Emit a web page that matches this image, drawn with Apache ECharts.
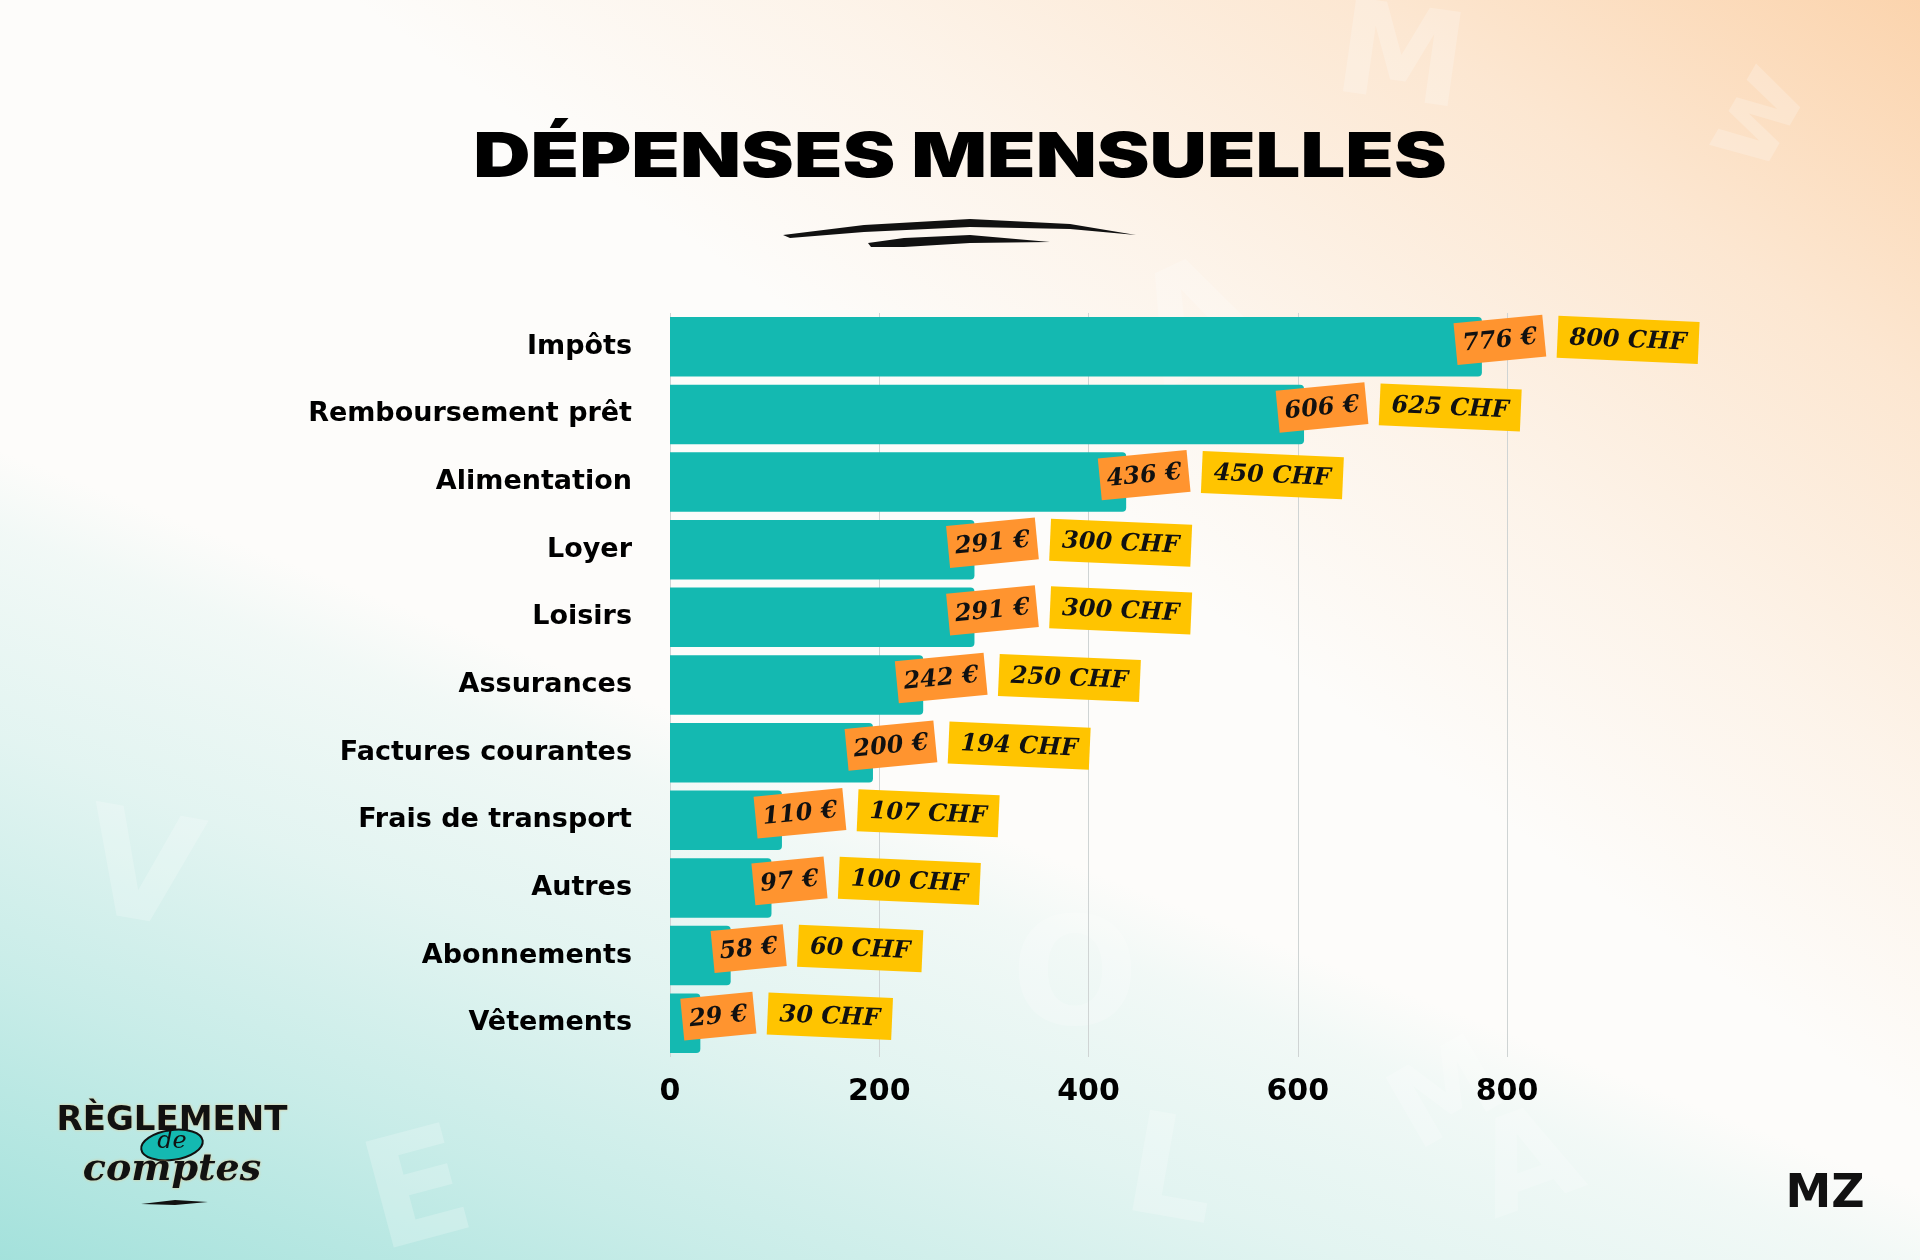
<!DOCTYPE html>
<html><head><meta charset="utf-8">
<script src="https://cdn.jsdelivr.net/npm/echarts@6/dist/echarts.min.js"></script>
<style>html,body{margin:0;padding:0;width:1920px;height:1260px;overflow:hidden}#c{width:1920px;height:1260px}</style>
</head><body><div id="c"></div>
<script>
const categories = ['Impôts','Remboursement prêt','Alimentation','Loyer','Loisirs','Assurances','Factures courantes','Frais de transport','Autres','Abonnements','Vêtements'];
const barValues = [776,606,436,291,291,242,194,107,97,58,29];
const euroLabels = ['776 €','606 €','436 €','291 €','291 €','242 €','200 €','110 €','97 €','58 €','29 €'];
const chfLabels = ['800 CHF','625 CHF','450 CHF','300 CHF','300 CHF','250 CHF','194 CHF','107 CHF','100 CHF','60 CHF','30 CHF'];
const xTicks = [0,200,400,600,800];
const titleText = 'DÉPENSES MENSUELLES';

const TAG_FONT_SIZE = 24;
const TAG_FAMILY = '"DejaVu Serif", serif';
const mctx = document.createElement('canvas').getContext('2d');
function textW(t){ mctx.font = 'italic bold ' + TAG_FONT_SIZE + 'px ' + TAG_FAMILY; return mctx.measureText(t).width; }
function tag(cx, cy, w, h, rot, fill, text){
  return {type:'group', x:cx, y:cy, rotation:rot, children:[
    {type:'rect', shape:{x:-w/2, y:-h/2, width:w, height:h}, style:{fill:fill}},
    {type:'text', style:{text:text, x:0, y:1, align:'center', verticalAlign:'middle',
      fontStyle:'italic', fontWeight:'bold', fontSize:TAG_FONT_SIZE, fontFamily:TAG_FAMILY, fill:'#111'}}
  ]};
}
const D = Math.PI/180;

function wm(text, x, y, size, rot){
  return {type:'text', x:x, y:y, rotation:rot*D, z:-50, silent:true,
    style:{text:text, fontSize:size, fontWeight:'bold', fontFamily:'"DejaVu Sans", sans-serif', fill:'rgba(255,255,255,0.22)', align:'center', verticalAlign:'middle'}};
}
function lin(x0,y0,x1,y1,stops){ return {type:'linear', x:x0, y:y0, x2:x1, y2:y1, global:true, colorStops:stops}; }

const chart = echarts.init(document.getElementById('c'), null, {renderer:'canvas'});
chart.setOption({
  backgroundColor:'#fdfcfa',
  animation:false,
  grid:{left:670, right:413, top:313, bottom:203, containLabel:false},
  xAxis:{type:'value', min:xTicks[0], max:xTicks[xTicks.length-1], interval:xTicks[1]-xTicks[0],
    axisLine:{show:false}, axisTick:{show:false},
    splitLine:{show:true, lineStyle:{color:'#cfd4d4', width:1}},
    axisLabel:{color:'#000', fontFamily:'"DejaVu Sans", sans-serif', fontWeight:'bold', fontSize:30, margin:20}},
  yAxis:{type:'category', data:categories, inverse:true,
    axisLine:{show:false}, axisTick:{show:false},
    axisLabel:{color:'#000', fontFamily:'"DejaVu Sans", sans-serif', fontWeight:'bold', fontSize:27, margin:38}},
  series:[
    {type:'bar', data:barValues, barCategoryGap:'12%', itemStyle:{color:'#14b9b1', borderRadius:[0,4,4,0]}, z:2},
    {type:'custom', z:5, clip:false,
      data: barValues.map((v,i)=>[v,i]), encode:{x:0, y:1},
      renderItem:function(params, api){
        const i = params.dataIndex;
        const p = api.coord([api.value(0), api.value(1)]);
        const h = 42;
        const ow = textW(euroLabels[i]) + 14;
        const yw = textW(chfLabels[i]) + 24;
        const ocx = p[0] + 18, cy = p[1] - 7;
        const ycx = ocx + ow/2 + 13 + yw/2;
        return {type:'group', children:[
          tag(ocx, cy, ow, h, 5.5*D, '#ff942f', euroLabels[i]),
          tag(ycx, cy, yw, h, -2.5*D, '#ffc400', chfLabels[i])
        ]};
      }}
  ],
  graphic:[
    // background tints
    {type:'rect', z:-100, silent:true, shape:{x:0,y:0,width:1920,height:1260},
      style:{fill:lin(0,1260,272,555,[{offset:0,color:'rgba(159,224,218,0.95)'},{offset:0.35,color:'rgba(159,224,218,0.56)'},{offset:0.65,color:'rgba(159,224,218,0.28)'},{offset:0.9,color:'rgba(159,224,218,0.12)'},{offset:1,color:'rgba(159,224,218,0)'}])}},
    {type:'rect', z:-99, silent:true, shape:{x:0,y:0,width:1920,height:1260},
      style:{fill:lin(1920,0,1390,742,[{offset:0,color:'rgba(251,205,160,0.85)'},{offset:0.35,color:'rgba(251,205,160,0.45)'},{offset:0.7,color:'rgba(251,205,160,0.18)'},{offset:1,color:'rgba(251,205,160,0)'}])}},
    wm('M', 1400, 65, 130, -8), wm('A', 1200, 330, 150, 25), wm('w', 1760, 120, 110, 60),
    wm('O', 1075, 985, 150, 0), wm('E', 420, 1200, 150, 15), wm('V', 140, 880, 150, -10),
    wm('L', 1170, 1180, 140, -10), wm('A', 1530, 1170, 130, 20), wm('M', 1450, 1100, 110, 30),
    // title
    {type:'text', x:960, y:158, scaleX:1.28, style:{text:titleText, fontFamily:'Inter, "DejaVu Sans", sans-serif', fontWeight:900, fontSize:62, fill:'#000', align:'center', verticalAlign:'middle'}},
    // brush strokes under title
    {type:'polygon', shape:{points:[[783,235],[864,225],[970,219],[1070,224],[1136,235],[1070,229],[970,227],[864,232],[790,238]]}, style:{fill:'#111'}},
    {type:'polygon', shape:{points:[[868,243],[904,238],[970,235],[1050,242],[970,243],[904,247],[871,247]]}, style:{fill:'#111'}},
    // logo bottom-left
    {type:'text', x:172, y:1121, style:{text:'RÈGLEMENT', fontFamily:'"DejaVu Sans", sans-serif', fontWeight:'bold', fontSize:34, fill:'#111', align:'center', verticalAlign:'middle', textShadowColor:'rgba(240,190,120,0.8)', textShadowBlur:3}},
    {type:'ellipse', shape:{cx:0, cy:0, rx:31, ry:15}, x:172, y:1145, rotation:8*D, style:{fill:'#14b9b1', stroke:'#111', lineWidth:2}},
    {type:'text', x:172, y:1142, style:{text:'de', fontFamily:'"DejaVu Serif", serif', fontStyle:'italic', fontSize:24, fill:'#111', align:'center', verticalAlign:'middle'}},
    {type:'text', x:172, y:1170, style:{text:'comptes', fontFamily:'"DejaVu Serif", serif', fontStyle:'italic', fontWeight:'bold', fontSize:38, fill:'#111', align:'center', verticalAlign:'middle', textShadowColor:'rgba(240,190,120,0.8)', textShadowBlur:3}},
    {type:'polygon', shape:{points:[[141,1204],[175,1200],[208,1202],[175,1205]]}, style:{fill:'#111'}},
    // logo bottom-right
    {type:'text', x:1825, y:1195, style:{text:'MZ', fontFamily:'"DejaVu Sans", sans-serif', fontWeight:'bold', fontSize:46, fill:'#111', align:'center', verticalAlign:'middle'}}
  ]
});
</script></body></html>
